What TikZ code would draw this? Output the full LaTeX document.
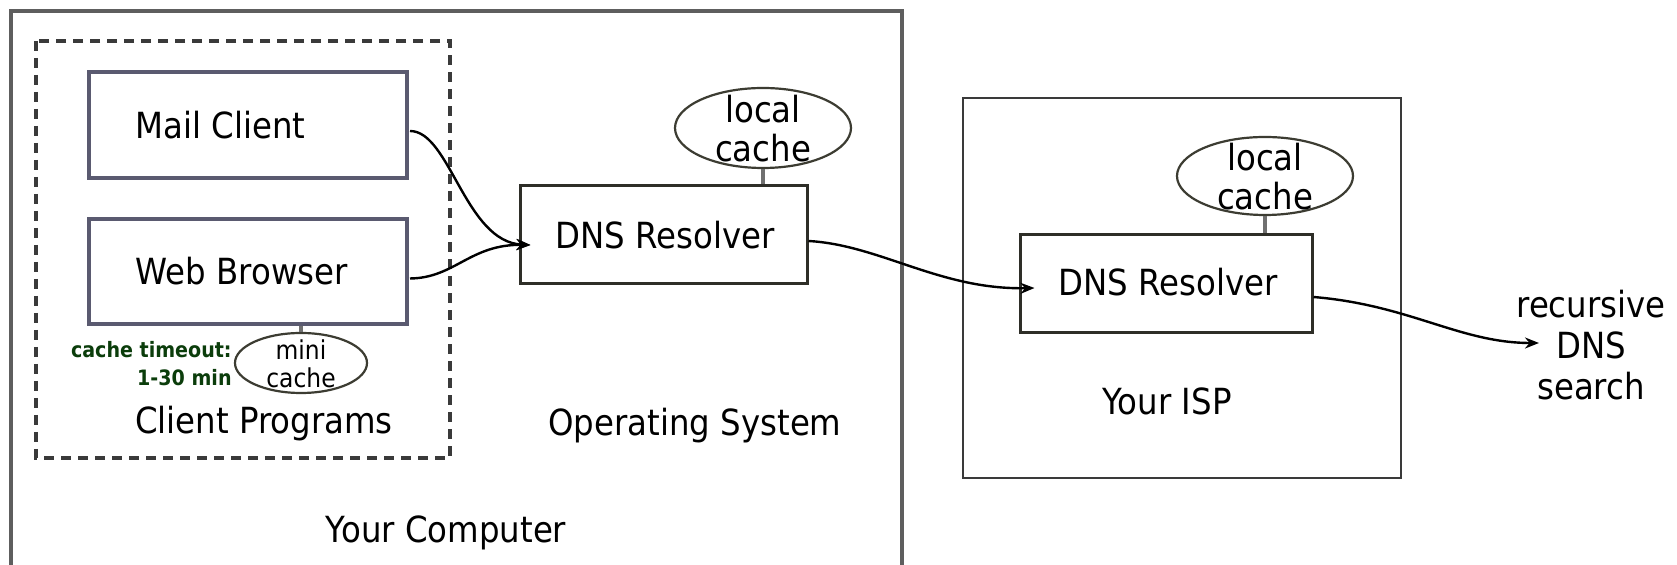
\documentclass[tikz,border=0pt]{standalone}
\usepackage{fontspec}
\setmainfont{DejaVu Sans}[FakeStretch=0.9]
\usetikzlibrary{arrows.meta,calc,shapes.geometric}
\definecolor{clientedge}{HTML}{5A5A70}
\definecolor{dnsedge}{HTML}{2E2E28}
\definecolor{outeredge}{HTML}{5E5E5E}
\definecolor{ispedge}{HTML}{3A3A3A}
\definecolor{cacheedge}{HTML}{3C3C32}
\definecolor{linkgray}{HTML}{707070}
\definecolor{timeoutgreen}{HTML}{0B3D0B}
\tikzset{
  lbl/.style={inner sep=0pt, align=center, font=\fontsize{18pt}{19.5pt}\selectfont},
  clientbox/.style={draw=clientedge, line width=2pt, rectangle, inner sep=0pt, minimum width=159pt, minimum height=53pt},
  dnsbox/.style={draw=dnsedge, line width=1.5pt, rectangle, inner sep=0pt, minimum width=145pt, minimum height=49pt},
  cacheell/.style={draw=cacheedge, line width=1.1pt, ellipse, inner sep=0pt},
  link/.style={draw=linkgray, line width=1.6pt},
  flow/.style={draw=black, line width=1.2pt, -{Stealth[length=7pt,width=5.5pt]}},
}
\begin{document}
\begin{tikzpicture}[x=0.5pt,y=-0.5pt]
\clip (0,0) rectangle (1677,565);
\fill[white] (0,0) rectangle (1677,565);

% containers
\draw[draw=outeredge, line width=2pt] (11,11) rectangle (902,640);
\draw[draw=ispedge, line width=1.25pt] (963,98) rectangle (1401,478);
\draw[draw=ispedge, line width=1.6pt, dash pattern=on 5pt off 3.5pt] (36,41) rectangle (450,458);

% client programs
\node[clientbox, minimum height=53pt] (mail) at (248,125) {};
\node[lbl, anchor=west] (mailtxt) at (135,125) {Mail Client};
\node[clientbox, minimum height=52.5pt] (web) at (248,271.5) {};
\node[lbl, anchor=west] (webtxt) at (135,271) {Web Browser};

\node[cacheell, minimum width=66pt, minimum height=30pt] (mini) at (301,363) {};
\node[inner sep=0pt, align=center, font=\fontsize{13pt}{14pt}\selectfont] (minitxt) at (301,364) {mini\\cache};
\draw[link] (web.south -| mini.north) -- (mini.north);
\node[inner sep=0pt, align=right, text=timeoutgreen, font=\bfseries\fontsize{10.6pt}{14pt}\selectfont, anchor=east] (timeout) at (232,364) {cache timeout:\\1-30 min};

\node[lbl] (clientlbl) at (264,424) {Client Programs};

% OS resolver
\node[dnsbox, minimum width=143.5pt] (dns1) at (663.5,235) {};
\node[lbl] (dns1txt) at (665,235) {DNS Resolver};
\node[cacheell, minimum width=88pt, minimum height=40pt] (cache1) at (763,128) {};
\node[lbl] (cache1txt) at (763,129) {local\\cache};
\draw[link] (cache1.south) -- (cache1.south |- dns1.north);
\node[lbl] (oslbl) at (695,426) {Operating System};
\node[lbl] (complbl) at (446,533) {Your Computer};

% ISP resolver
\node[dnsbox, minimum width=146pt] (dns2) at (1166,284) {};
\node[lbl] (dns2txt) at (1168,282) {DNS Resolver};
\node[cacheell, minimum width=88pt, minimum height=39pt] (cache2) at (1265,176) {};
\node[lbl] (cache2txt) at (1265,177) {local\\cache};
\draw[link] (cache2.south) -- (cache2.south |- dns2.north);
\node[lbl] (isplbl) at (1167,401) {Your ISP};

\node[lbl, font=\fontsize{18pt}{20.5pt}\selectfont] (recursive) at (1591,345) {recursive\\DNS\\search};

% flows
\draw[flow] ($(mail.east)+(1,6)$) .. controls (450,131) and (465,242) .. ($(dns1.west)+(12,10)$);
\draw[flow] ($(web.east)+(1,7)$) .. controls (455,278) and (470,244) .. ($(dns1.west)+(12,10)$);
\draw[flow] ($(dns1.east)+(0,6)$) .. controls (880,245) and (940,290) .. ($(dns2.west)+(16,4)$);
\draw[flow] ($(dns2.east)+(0,13)$) .. controls (1410,305) and (1460,343) .. ($(recursive.west)+(23,-2)$);
\end{tikzpicture}
\end{document}
